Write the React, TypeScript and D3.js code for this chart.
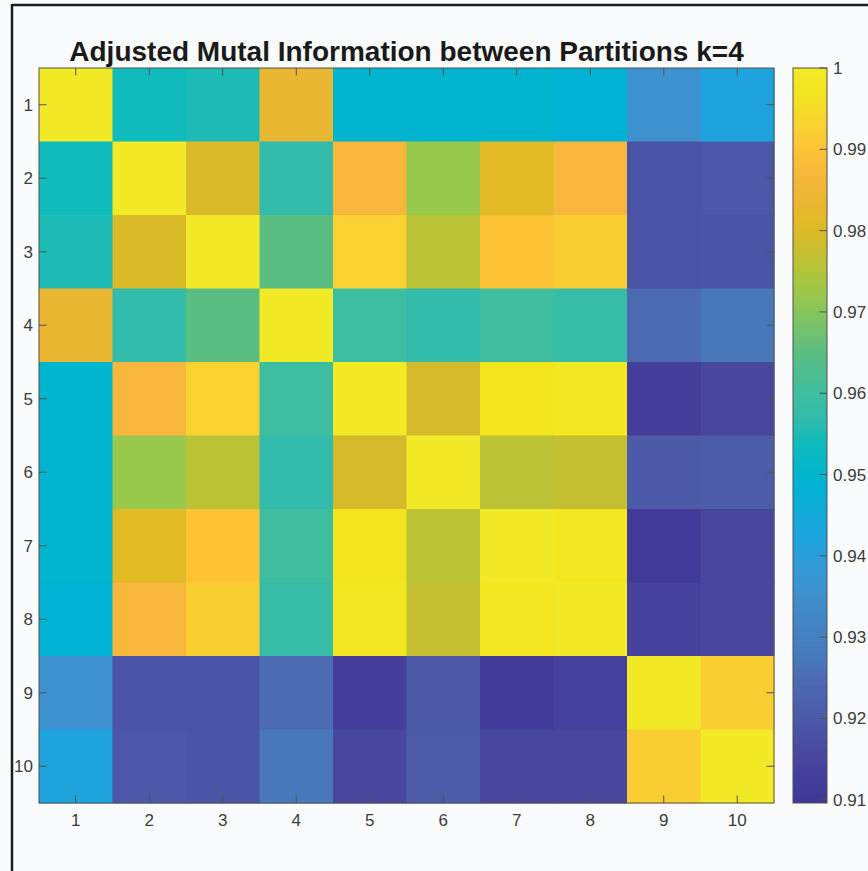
import React from 'react';
import * as d3 from 'd3';

const titleText = 'Adjusted Mutal Information between Partitions k=4';
const rowLabels = ['1', '2', '3', '4', '5', '6', '7', '8', '9', '10'];
const colLabels = ['1', '2', '3', '4', '5', '6', '7', '8', '9', '10'];

const row1 = [1.0, 0.954, 0.955, 0.983, 0.95, 0.9495, 0.95, 0.949, 0.936, 0.942];
const row2 = [0.954, 1.0, 0.98, 0.957, 0.987, 0.972, 0.981, 0.987, 0.9185, 0.9195];
const row3 = [0.955, 0.98, 1.0, 0.965, 0.993, 0.976, 0.99, 0.992, 0.9185, 0.919];
const row4 = [0.983, 0.957, 0.965, 1.0, 0.9595, 0.957, 0.96, 0.958, 0.925, 0.927];
const row5 = [0.95, 0.987, 0.993, 0.9595, 1.0, 0.979, 0.997, 0.998, 0.9135, 0.915];
const row6 = [0.9495, 0.972, 0.976, 0.957, 0.979, 1.0, 0.976, 0.977, 0.92, 0.9205];
const row7 = [0.95, 0.981, 0.99, 0.96, 0.997, 0.976, 1.0, 0.998, 0.911, 0.915];
const row8 = [0.949, 0.987, 0.992, 0.958, 0.998, 0.977, 0.998, 1.0, 0.914, 0.915];
const row9 = [0.936, 0.9185, 0.9185, 0.925, 0.9135, 0.92, 0.911, 0.914, 1.0, 0.992];
const row10 = [0.942, 0.9195, 0.919, 0.927, 0.915, 0.9205, 0.915, 0.915, 0.992, 1.0];
const matrix = [row1, row2, row3, row4, row5, row6, row7, row8, row9, row10];

const colorDomain = [0.9096, 1.0];
const colorbarTicks = [0.91, 0.92, 0.93, 0.94, 0.95, 0.96, 0.97, 0.98, 0.99, 1.0];
const colorbarTickLabels = ['0.91', '0.92', '0.93', '0.94', '0.95', '0.96', '0.97', '0.98', '0.99', '1'];

const cmapValues = [0.9096, 0.911, 0.9135, 0.915, 0.9185, 0.92, 0.925, 0.927, 0.936, 0.942, 0.949, 0.95, 0.954, 0.957, 0.96, 0.965, 0.972, 0.976, 0.979, 0.981, 0.983, 0.987, 0.99, 0.993, 0.997, 1.0];
const cmapColors = ['#3f3796', '#413a98', '#453f9b', '#48469d', '#4b53a4', '#4c5aa8', '#4c6bb3', '#4878b9', '#3e92d0', '#1fa3dc', '#00b2d3', '#00b5cd', '#10bbbb', '#33bbab', '#3fbe9f', '#5abe82', '#98c94c', '#bac235', '#d4ba2a', '#e1ba26', '#e9b731', '#f6b73c', '#fdc335', '#f9d232', '#f2e51e', '#f2ea26'];

const W = 868;
const H = 871;
const plotL = 39;
const plotT = 68;
const plotSize = 735;
const cbL = 793;
const cbW = 34;
const axisColor = '#505050';
const textColor = '#3c3c3c';
const font = '"Liberation Sans", Arial, Helvetica, sans-serif';

export default function App() {
  const color = d3.scaleLinear<string>().domain(cmapValues).range(cmapColors).interpolate(d3.interpolateRgb).clamp(true);
  const x = d3.scaleBand().domain(colLabels).range([plotL, plotL + plotSize]);
  const y = d3.scaleBand().domain(rowLabels).range([plotT, plotT + plotSize]);
  const cbY = d3.scaleLinear().domain(colorDomain).range([plotT + plotSize, plotT]);
  const bw = x.bandwidth();
  const tickLen = 7.5;

  const gradStops = d3.range(0, 101).map((i) => {
    const v = colorDomain[0] + (colorDomain[1] - colorDomain[0]) * (i / 100);
    return { offset: `${100 - i}%`, color: color(v) };
  }).reverse();

  return (
    <svg width={W} height={H} style={{ position: 'absolute', left: 0, top: 0, background: '#fafbfd' }}>
      <defs>
        <linearGradient id="cbgrad" x1="0" y1="0" x2="0" y2="1">
          {gradStops.map((s, i) => (
            <stop key={i} offset={s.offset} stopColor={s.color} />
          ))}
        </linearGradient>
      </defs>
      <rect x={0} y={0} width={W} height={H} fill="#fafbfd" />
      <line x1={12} y1={5} x2={W} y2={5} stroke="#1e1e1e" strokeWidth={2.5} />
      <line x1={12} y1={4} x2={12} y2={H} stroke="#1e1e1e" strokeWidth={2.5} />

      <text x={plotL + plotSize / 2} y={61} textAnchor="middle" fontFamily={font} fontWeight="bold" fontSize={28} fill="#1a1a1a">
        {titleText}
      </text>

      {matrix.map((row, i) =>
        row.map((v, j) => (
          <rect
            key={`${i}-${j}`}
            x={x(colLabels[j])}
            y={y(rowLabels[i])}
            width={bw + 0.5}
            height={y.bandwidth() + 0.5}
            fill={color(v)}
          />
        ))
      )}

      <rect x={plotL} y={plotT} width={plotSize} height={plotSize} fill="none" stroke={axisColor} strokeWidth={1} />

      {colLabels.map((c) => {
        const cx = (x(c) as number) + bw / 2;
        return (
          <g key={`xt${c}`}>
            <line x1={cx} y1={plotT} x2={cx} y2={plotT + tickLen} stroke={axisColor} strokeWidth={1} />
            <line x1={cx} y1={plotT + plotSize} x2={cx} y2={plotT + plotSize - tickLen} stroke={axisColor} strokeWidth={1} />
            <text x={cx} y={plotT + plotSize + 23} textAnchor="middle" fontFamily={font} fontSize={17} fill={textColor}>
              {c}
            </text>
          </g>
        );
      })}

      {rowLabels.map((r) => {
        const cy = (y(r) as number) + y.bandwidth() / 2;
        return (
          <g key={`yt${r}`}>
            <line x1={plotL} y1={cy} x2={plotL + tickLen} y2={cy} stroke={axisColor} strokeWidth={1} />
            <line x1={plotL + plotSize} y1={cy} x2={plotL + plotSize - tickLen} y2={cy} stroke={axisColor} strokeWidth={1} />
            <text x={33} y={cy + 6} textAnchor="end" fontFamily={font} fontSize={17} fill={textColor}>
              {r}
            </text>
          </g>
        );
      })}

      <rect x={cbL} y={plotT} width={cbW} height={plotSize} fill="url(#cbgrad)" stroke={axisColor} strokeWidth={1} />
      {colorbarTicks.map((t, i) => {
        const ty = cbY(t);
        return (
          <g key={`cb${i}`}>
            <line x1={cbL + cbW} y1={ty} x2={cbL + cbW - tickLen} y2={ty} stroke={axisColor} strokeWidth={1} />
            <text x={cbL + cbW + 6} y={ty + 6} textAnchor="start" fontFamily={font} fontSize={17} fill={textColor}>
              {colorbarTickLabels[i]}
            </text>
          </g>
        );
      })}
    </svg>
  );
}
